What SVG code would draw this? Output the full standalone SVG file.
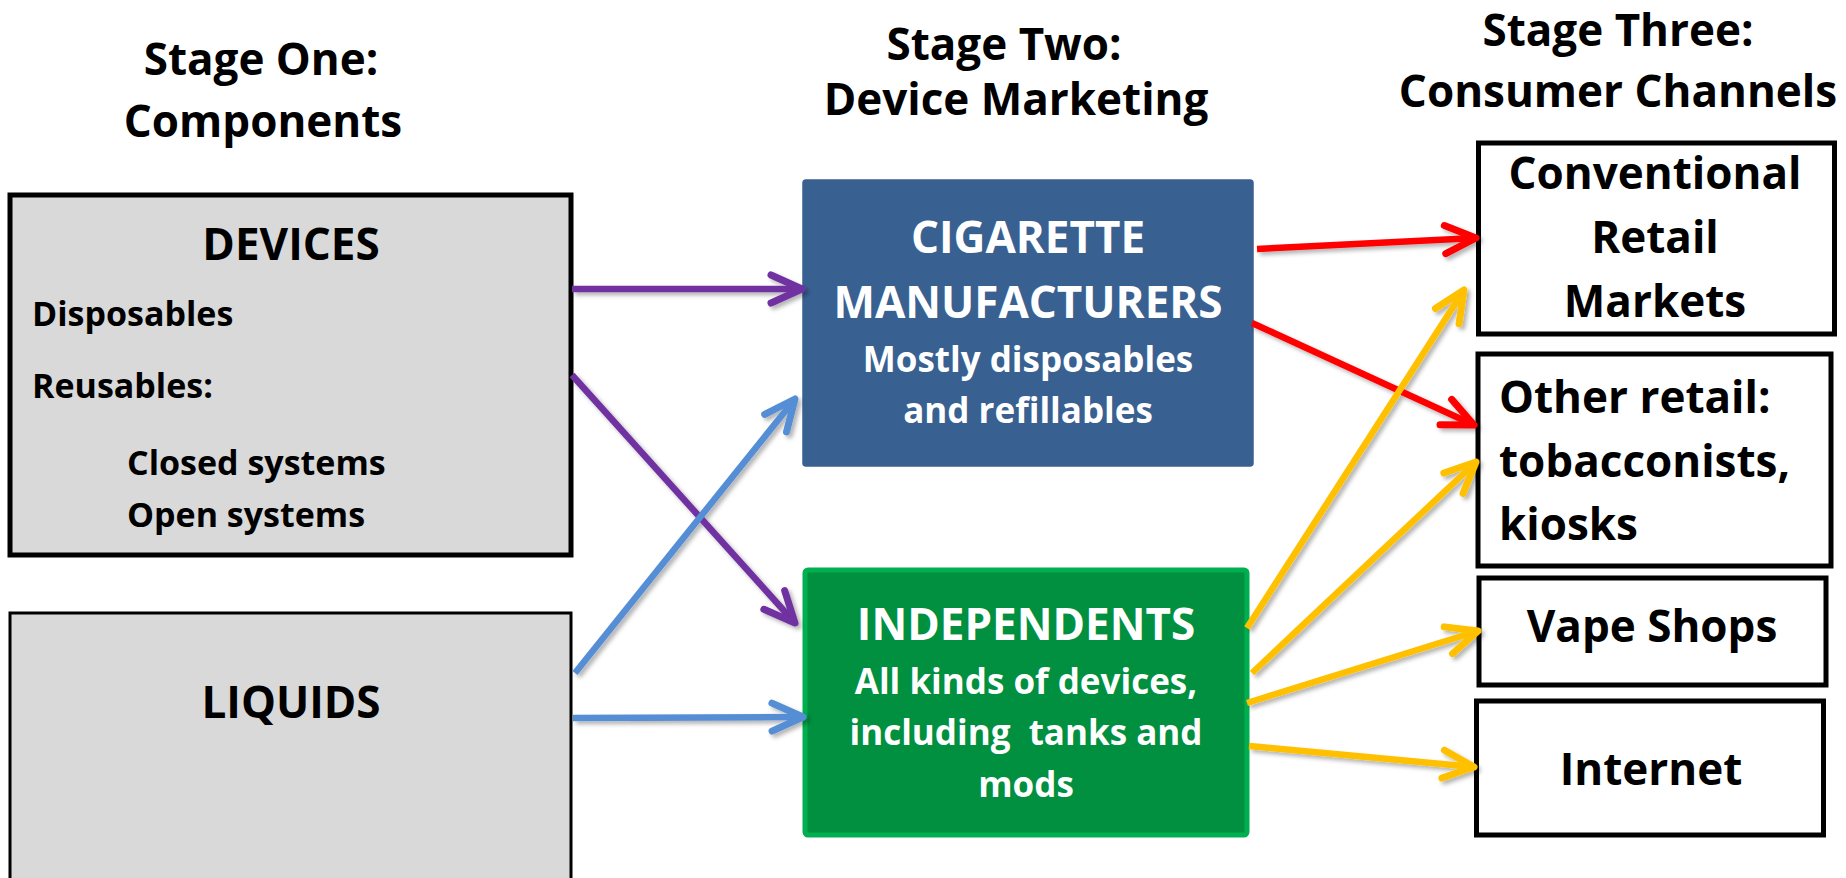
<svg xmlns="http://www.w3.org/2000/svg" width="1846" height="878" viewBox="0 0 1846 878">
  <style>
    text { font-family: "Open Sans", "Liberation Sans", sans-serif; font-weight: 700; }
    .title { font-size: 44px; fill: #000; text-anchor: middle; }
    .big { font-size: 44px; fill: #000; }
    .small { font-size: 34px; fill: #000; }
    .mid { text-anchor: middle; }
    .white { fill: #fff; }
    .sub { font-size: 35px; }
    .stage1 { fill: #d9d9d9; stroke: #000; }
    .channel { fill: #fff; stroke: #000; stroke-width: 5; }
    .link { fill: none; stroke-width: 6.5; stroke-linecap: butt; }
  </style>
  <defs>
    <filter id="shadow" x="-10%" y="-10%" width="120%" height="120%">
      <feDropShadow dx="3" dy="3" stdDeviation="2" flood-color="#000" flood-opacity="0.3"/>
    </filter>
    <marker id="head-purple" markerUnits="userSpaceOnUse" orient="auto" viewBox="-40 -20 46 40" refX="0" refY="0" markerWidth="46" markerHeight="40">
      <path d="M-31,-14 L0,0 L-31,14" fill="none" stroke="#7030a0" stroke-width="7" stroke-linecap="round" stroke-linejoin="round"/>
    </marker>
    <marker id="head-blue" markerUnits="userSpaceOnUse" orient="auto" viewBox="-40 -20 46 40" refX="0" refY="0" markerWidth="46" markerHeight="40">
      <path d="M-31,-14 L0,0 L-31,14" fill="none" stroke="#558ed5" stroke-width="7" stroke-linecap="round" stroke-linejoin="round"/>
    </marker>
    <marker id="head-red" markerUnits="userSpaceOnUse" orient="auto" viewBox="-40 -20 46 40" refX="0" refY="0" markerWidth="46" markerHeight="40">
      <path d="M-31,-14 L0,0 L-31,14" fill="none" stroke="#ff0000" stroke-width="7" stroke-linecap="round" stroke-linejoin="round"/>
    </marker>
    <marker id="head-yellow" markerUnits="userSpaceOnUse" orient="auto" viewBox="-40 -20 46 40" refX="0" refY="0" markerWidth="46" markerHeight="40">
      <path d="M-31,-14 L0,0 L-31,14" fill="none" stroke="#ffc000" stroke-width="7" stroke-linecap="round" stroke-linejoin="round"/>
    </marker>
  </defs>

  <rect width="1846" height="878" fill="#fff"/>

  <!-- column headings -->
  <g id="stage-headings">
    <text class="title" x="261" y="75">Stage One:</text>
    <text class="title" x="263" y="137">Components</text>
    <text class="title" x="1004" y="60">Stage Two:</text>
    <text class="title" x="1016" y="115">Device Marketing</text>
    <text class="title" x="1618" y="46">Stage Three:</text>
    <text class="title" x="1618" y="107">Consumer Channels</text>
  </g>

  <!-- stage one -->
  <g id="devices">
    <rect class="stage1" x="10" y="195" width="561" height="360" stroke-width="5"/>
    <text class="big mid" x="291" y="260">DEVICES</text>
    <text class="small" x="32" y="326">Disposables</text>
    <text class="small" x="32" y="398">Reusables:</text>
    <text class="small" x="127" y="475">Closed systems</text>
    <text class="small" x="127" y="527">Open systems</text>
  </g>
  <g id="liquids">
    <rect class="stage1" x="10" y="613" width="561" height="280" stroke-width="3"/>
    <text class="big mid" x="291" y="718">LIQUIDS</text>
  </g>

  <!-- stage two -->
  <g id="cigarette-manufacturers">
    <rect x="803" y="180" width="450" height="286" rx="3" fill="#386192" stroke="#3b6090" stroke-width="1.5"/>
    <text class="big mid white" x="1028" y="253">CIGARETTE</text>
    <text class="big mid white" x="1028" y="318">MANUFACTURERS</text>
    <text class="mid white sub" x="1028" y="372">Mostly disposables</text>
    <text class="mid white sub" x="1028" y="423">and refillables</text>
  </g>
  <g id="independents">
    <rect x="805" y="570" width="442" height="265" rx="3" fill="#00903f" stroke="#00b050" stroke-width="5"/>
    <text class="big mid white" x="1026" y="640">INDEPENDENTS</text>
    <text class="mid white sub" x="1026" y="694">All kinds of devices,</text>
    <text class="mid white sub" x="1026" y="745" xml:space="preserve">including  tanks and</text>
    <text class="mid white sub" x="1026" y="797">mods</text>
  </g>

  <!-- stage three -->
  <g id="conventional-retail">
    <rect class="channel" x="1478.5" y="143" width="356" height="191"/>
    <text class="big mid" x="1655" y="189">Conventional</text>
    <text class="big mid" x="1655" y="253">Retail</text>
    <text class="big mid" x="1655" y="317">Markets</text>
  </g>
  <g id="other-retail">
    <rect class="channel" x="1478" y="354" width="353" height="212"/>
    <text class="big" x="1499" y="413">Other retail:</text>
    <text class="big" x="1499" y="477">tobacconists,</text>
    <text class="big" x="1499" y="540">kiosks</text>
  </g>
  <g id="vape-shops">
    <rect class="channel" x="1479" y="578" width="347" height="107"/>
    <text class="big mid" x="1652" y="642">Vape Shops</text>
  </g>
  <g id="internet">
    <rect class="channel" x="1476.5" y="701" width="347" height="134"/>
    <text class="big mid" x="1651" y="785">Internet</text>
  </g>

  <!-- flows between stages -->
  <g id="connectors" filter="url(#shadow)">
    <line class="link" x1="572" y1="289" x2="802" y2="289" stroke="#7030a0" marker-end="url(#head-purple)"/>
    <line class="link" x1="572" y1="375" x2="795" y2="623" stroke="#7030a0" marker-end="url(#head-purple)"/>
    <line class="link" x1="575" y1="673" x2="795" y2="399" stroke="#558ed5" marker-end="url(#head-blue)"/>
    <line class="link" x1="573" y1="718" x2="803" y2="717" stroke="#558ed5" marker-end="url(#head-blue)"/>
    <line class="link" x1="1257" y1="249" x2="1476" y2="238" stroke="#ff0000" marker-end="url(#head-red)"/>
    <line class="link" x1="1252" y1="323" x2="1474" y2="425" stroke="#ff0000" marker-end="url(#head-red)"/>
    <line class="link" x1="1247" y1="628" x2="1464" y2="290" stroke="#ffc000" marker-end="url(#head-yellow)"/>
    <line class="link" x1="1252" y1="673" x2="1476" y2="462" stroke="#ffc000" marker-end="url(#head-yellow)"/>
    <line class="link" x1="1247" y1="703" x2="1478" y2="631" stroke="#ffc000" marker-end="url(#head-yellow)"/>
    <line class="link" x1="1249" y1="746" x2="1474" y2="767" stroke="#ffc000" marker-end="url(#head-yellow)"/>
  </g>
</svg>
